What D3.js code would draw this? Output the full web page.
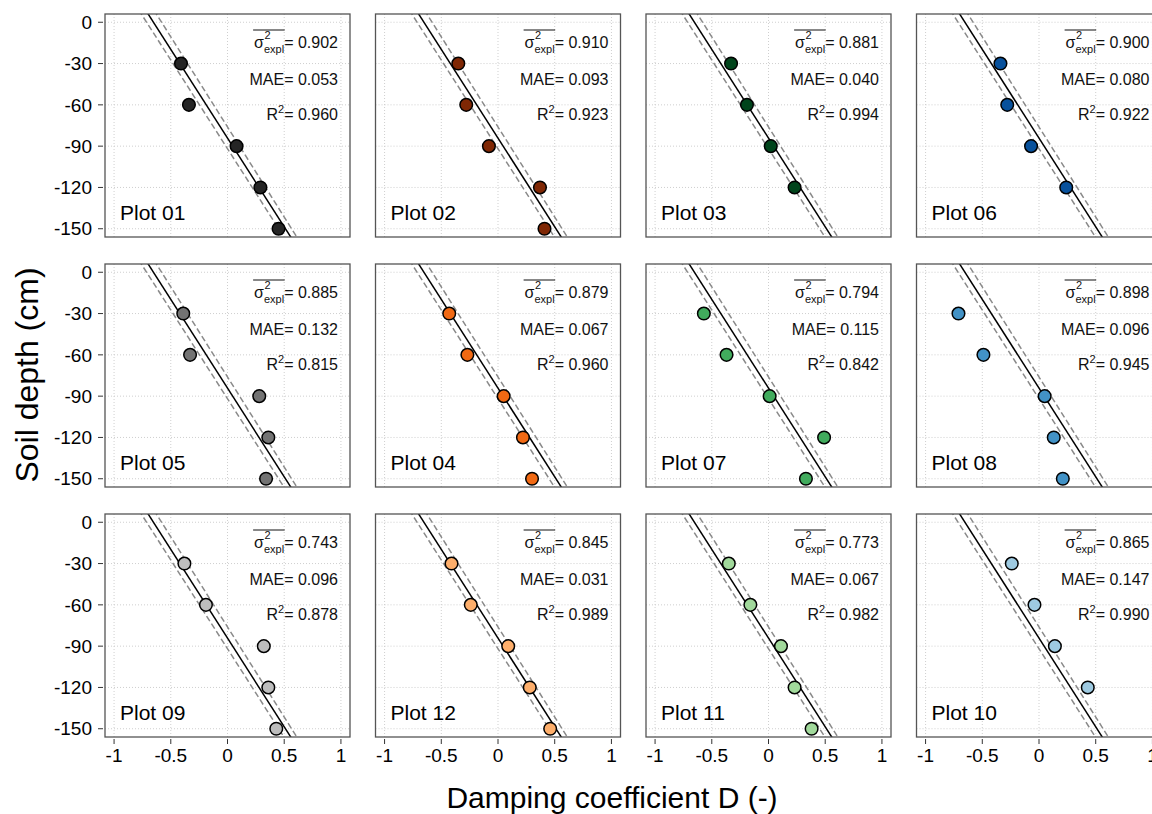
<!DOCTYPE html>
<html>
<head>
<meta charset="utf-8">
<script src="https://cdn.jsdelivr.net/npm/d3@7"></script>
<style>
  body { margin: 0; background: #fff; }
  svg { font-family: "Liberation Sans", Arial, sans-serif; }
</style>
</head>
<body>
<div id="chart"></div>
<script>
// panel order: left to right, top to bottom
var plotNames = ["Plot 01", "Plot 02", "Plot 03", "Plot 06",
                 "Plot 05", "Plot 04", "Plot 07", "Plot 08",
                 "Plot 09", "Plot 12", "Plot 11", "Plot 10"];
var plotColors = ["#252525", "#7f2704", "#00441b", "#08519c",
                  "#737373", "#f16913", "#41ab5d", "#4292c6",
                  "#bdbdbd", "#fdae6b", "#a1d99b", "#9ecae1"];
var sigmaExpl = [0.902, 0.910, 0.881, 0.900, 0.885, 0.879, 0.794, 0.898, 0.743, 0.845, 0.773, 0.865];
var maeValues = [0.053, 0.093, 0.040, 0.080, 0.132, 0.067, 0.115, 0.096, 0.096, 0.031, 0.067, 0.147];
var r2Values  = [0.960, 0.923, 0.994, 0.922, 0.815, 0.960, 0.842, 0.945, 0.878, 0.989, 0.982, 0.990];

var depths = [-30, -60, -90, -120, -150];
// damping coefficient D at each depth (null = no sensor)
var dampD = [
  [-0.41, -0.34,  0.08, 0.29, 0.45],
  [-0.35, -0.28, -0.08, 0.37, 0.41],
  [-0.33, -0.19,  0.02, 0.23, null],
  [-0.34, -0.28, -0.07, 0.24, null],
  [-0.39, -0.33,  0.28, 0.36, 0.34],
  [-0.43, -0.27,  0.05, 0.22, 0.30],
  [-0.57, -0.37,  0.01, 0.49, 0.33],
  [-0.71, -0.49,  0.05, 0.13, 0.21],
  [-0.38, -0.19,  0.32, 0.36, 0.43],
  [-0.41, -0.24,  0.09, 0.28, 0.46],
  [-0.35, -0.16,  0.11, 0.23, 0.38],
  [-0.24, -0.04,  0.14, 0.43, null]
];

// common fit D = a + b*z and its band
var fitLine   = {a: -0.653, b: -0.00776};
var bandLower = {a: -0.713, b: -0.00776};
var bandUpper = {a: -0.581, b: -0.00764};

var xTicks = [-1, -0.5, 0, 0.5, 1];
var xTickLabels = ["-1", "-0.5", "0", "0.5", "1"];
var yTicks = [0, -30, -60, -90, -120, -150];

var W = 1152, H = 814;
var pw = 245, ph = 223;
var left0 = 105, top0 = 14, stepX = 270.5, stepY = 250;

var svg = d3.select("#chart").append("svg")
  .attr("width", W)
  .attr("height", H);

var x = d3.scaleLinear().domain([-1.08, 1.08]).range([0, pw]);
var y = d3.scaleLinear().domain([6, -156]).range([0, ph]);

var line = d3.line()
  .x(function(d) { return x(d[0]); })
  .y(function(d) { return y(d[1]); });

function lineData(l)
{
  return [[l.a + l.b * 20, 20], [l.a + l.b * -170, -170]];
}

var fmt = d3.format(".3f");

plotNames.forEach(function(name, i)
{
  var col = i % 4, row = Math.floor(i / 4);
  var g = svg.append("g")
    .attr("transform", "translate(" + (left0 + col * stepX) + "," + (top0 + row * stepY) + ")");

  var clipid = "clip" + i;
  g.append("clipPath").attr("id", clipid)
    .append("rect").attr("width", pw).attr("height", ph);

  //grid
  g.selectAll(".gx").data(xTicks).enter().append("line")
    .attr("x1", function(d) { return x(d); })
    .attr("x2", function(d) { return x(d); })
    .attr("y1", 0).attr("y2", ph)
    .attr("stroke", "#cfcfcf").attr("stroke-dasharray", "1,2");
  g.selectAll(".gy").data(yTicks).enter().append("line")
    .attr("y1", function(d) { return y(d); })
    .attr("y2", function(d) { return y(d); })
    .attr("x1", 0).attr("x2", pw)
    .attr("stroke", "#cfcfcf").attr("stroke-dasharray", "1,2");

  //fit lines
  var lines = g.append("g").attr("clip-path", "url(#" + clipid + ")");
  [bandLower, bandUpper].forEach(function(l)
  {
    lines.append("path")
      .attr("d", line(lineData(l)))
      .attr("fill", "none")
      .attr("stroke", "#8a8a8a")
      .attr("stroke-width", 1.5)
      .attr("stroke-dasharray", "6,3");
  });
  lines.append("path")
    .attr("d", line(lineData(fitLine)))
    .attr("fill", "none")
    .attr("stroke", "#000")
    .attr("stroke-width", 1.5);

  //points
  var pts = depths.map(function(z, k) { return [dampD[i][k], z]; })
    .filter(function(d) { return d[0] !== null; });
  g.selectAll(".pt").data(pts).enter().append("circle")
    .attr("cx", function(d) { return x(d[0]); })
    .attr("cy", function(d) { return y(d[1]); })
    .attr("r", 6.3)
    .attr("fill", plotColors[i])
    .attr("stroke", "#000")
    .attr("stroke-width", 1.5);

  //box
  g.append("rect")
    .attr("width", pw).attr("height", ph)
    .attr("fill", "none")
    .attr("stroke", "#555")
    .attr("stroke-width", 1.3);

  //plot label
  g.append("text")
    .attr("x", 15).attr("y", 206)
    .style("font-size", "21px")
    .text(name);

  //stats
  var xr = 233;
  var ann = g.append("g").style("font-size", "16px").attr("fill", "#111");
  var b1 = 34, b2 = 71, b3 = 106;
  var t1 = ann.append("text").attr("x", xr).attr("y", b1).attr("text-anchor", "end")
    .text("= " + fmt(sigmaExpl[i]));
  var w1 = t1.node().getComputedTextLength();
  var sub = ann.append("text").attr("x", xr - w1).attr("y", b1 + 5).attr("text-anchor", "end")
    .style("font-size", "11px").text("expl");
  var ws = sub.node().getComputedTextLength();
  var sig = ann.append("text").attr("x", xr - w1 - ws).attr("y", b1).attr("text-anchor", "end")
    .text("σ");
  var wsig = sig.node().getComputedTextLength();
  ann.append("text").attr("x", xr - w1 - ws + 0.5).attr("y", b1 - 9)
    .style("font-size", "11px").text("2");
  ann.append("line")
    .attr("x1", xr - w1 - ws - wsig - 1).attr("x2", xr - w1 + 0.5)
    .attr("y1", b1 - 18).attr("y2", b1 - 18)
    .attr("stroke", "#111").attr("stroke-width", 1);

  ann.append("text").attr("x", xr).attr("y", b2).attr("text-anchor", "end")
    .text("MAE= " + fmt(maeValues[i]));

  var t3 = ann.append("text").attr("x", xr).attr("y", b3).attr("text-anchor", "end")
    .text("= " + fmt(r2Values[i]));
  var w3 = t3.node().getComputedTextLength();
  var s3 = ann.append("text").attr("x", xr - w3).attr("y", b3 - 7).attr("text-anchor", "end")
    .style("font-size", "11px").text("2");
  var ws3 = s3.node().getComputedTextLength();
  ann.append("text").attr("x", xr - w3 - ws3).attr("y", b3).attr("text-anchor", "end")
    .text("R");

  //y axis on first column
  if(col == 0)
  {
    var ya = g.append("g");
    ya.selectAll("line").data(yTicks).enter().append("line")
      .attr("x1", -7).attr("x2", -2)
      .attr("y1", function(d) { return y(d); })
      .attr("y2", function(d) { return y(d); })
      .attr("stroke", "#333");
    ya.selectAll("text").data(yTicks).enter().append("text")
      .attr("x", -13)
      .attr("y", function(d) { return y(d); })
      .attr("dy", "0.35em")
      .attr("text-anchor", "end")
      .style("font-size", "19px")
      .text(function(d) { return d; });
  }

  //x axis on last row
  if(row == 2)
  {
    var xa = g.append("g");
    xa.selectAll("line").data(xTicks).enter().append("line")
      .attr("x1", function(d) { return x(d); })
      .attr("x2", function(d) { return x(d); })
      .attr("y1", ph + 2).attr("y2", ph + 7)
      .attr("stroke", "#333");
    xa.selectAll("text").data(xTicks).enter().append("text")
      .attr("x", function(d) { return x(d); })
      .attr("y", ph + 25)
      .attr("text-anchor", "middle")
      .style("font-size", "19px")
      .text(function(d, k) { return xTickLabels[k]; });
  }
});

svg.append("text")
  .attr("x", 612).attr("y", 808)
  .attr("text-anchor", "middle")
  .style("font-size", "30px")
  .text("Damping coefficient D (-)");

svg.append("text")
  .attr("transform", "translate(38,375) rotate(-90)")
  .attr("text-anchor", "middle")
  .style("font-size", "32px")
  .text("Soil depth (cm)");
</script>
</body>
</html>
